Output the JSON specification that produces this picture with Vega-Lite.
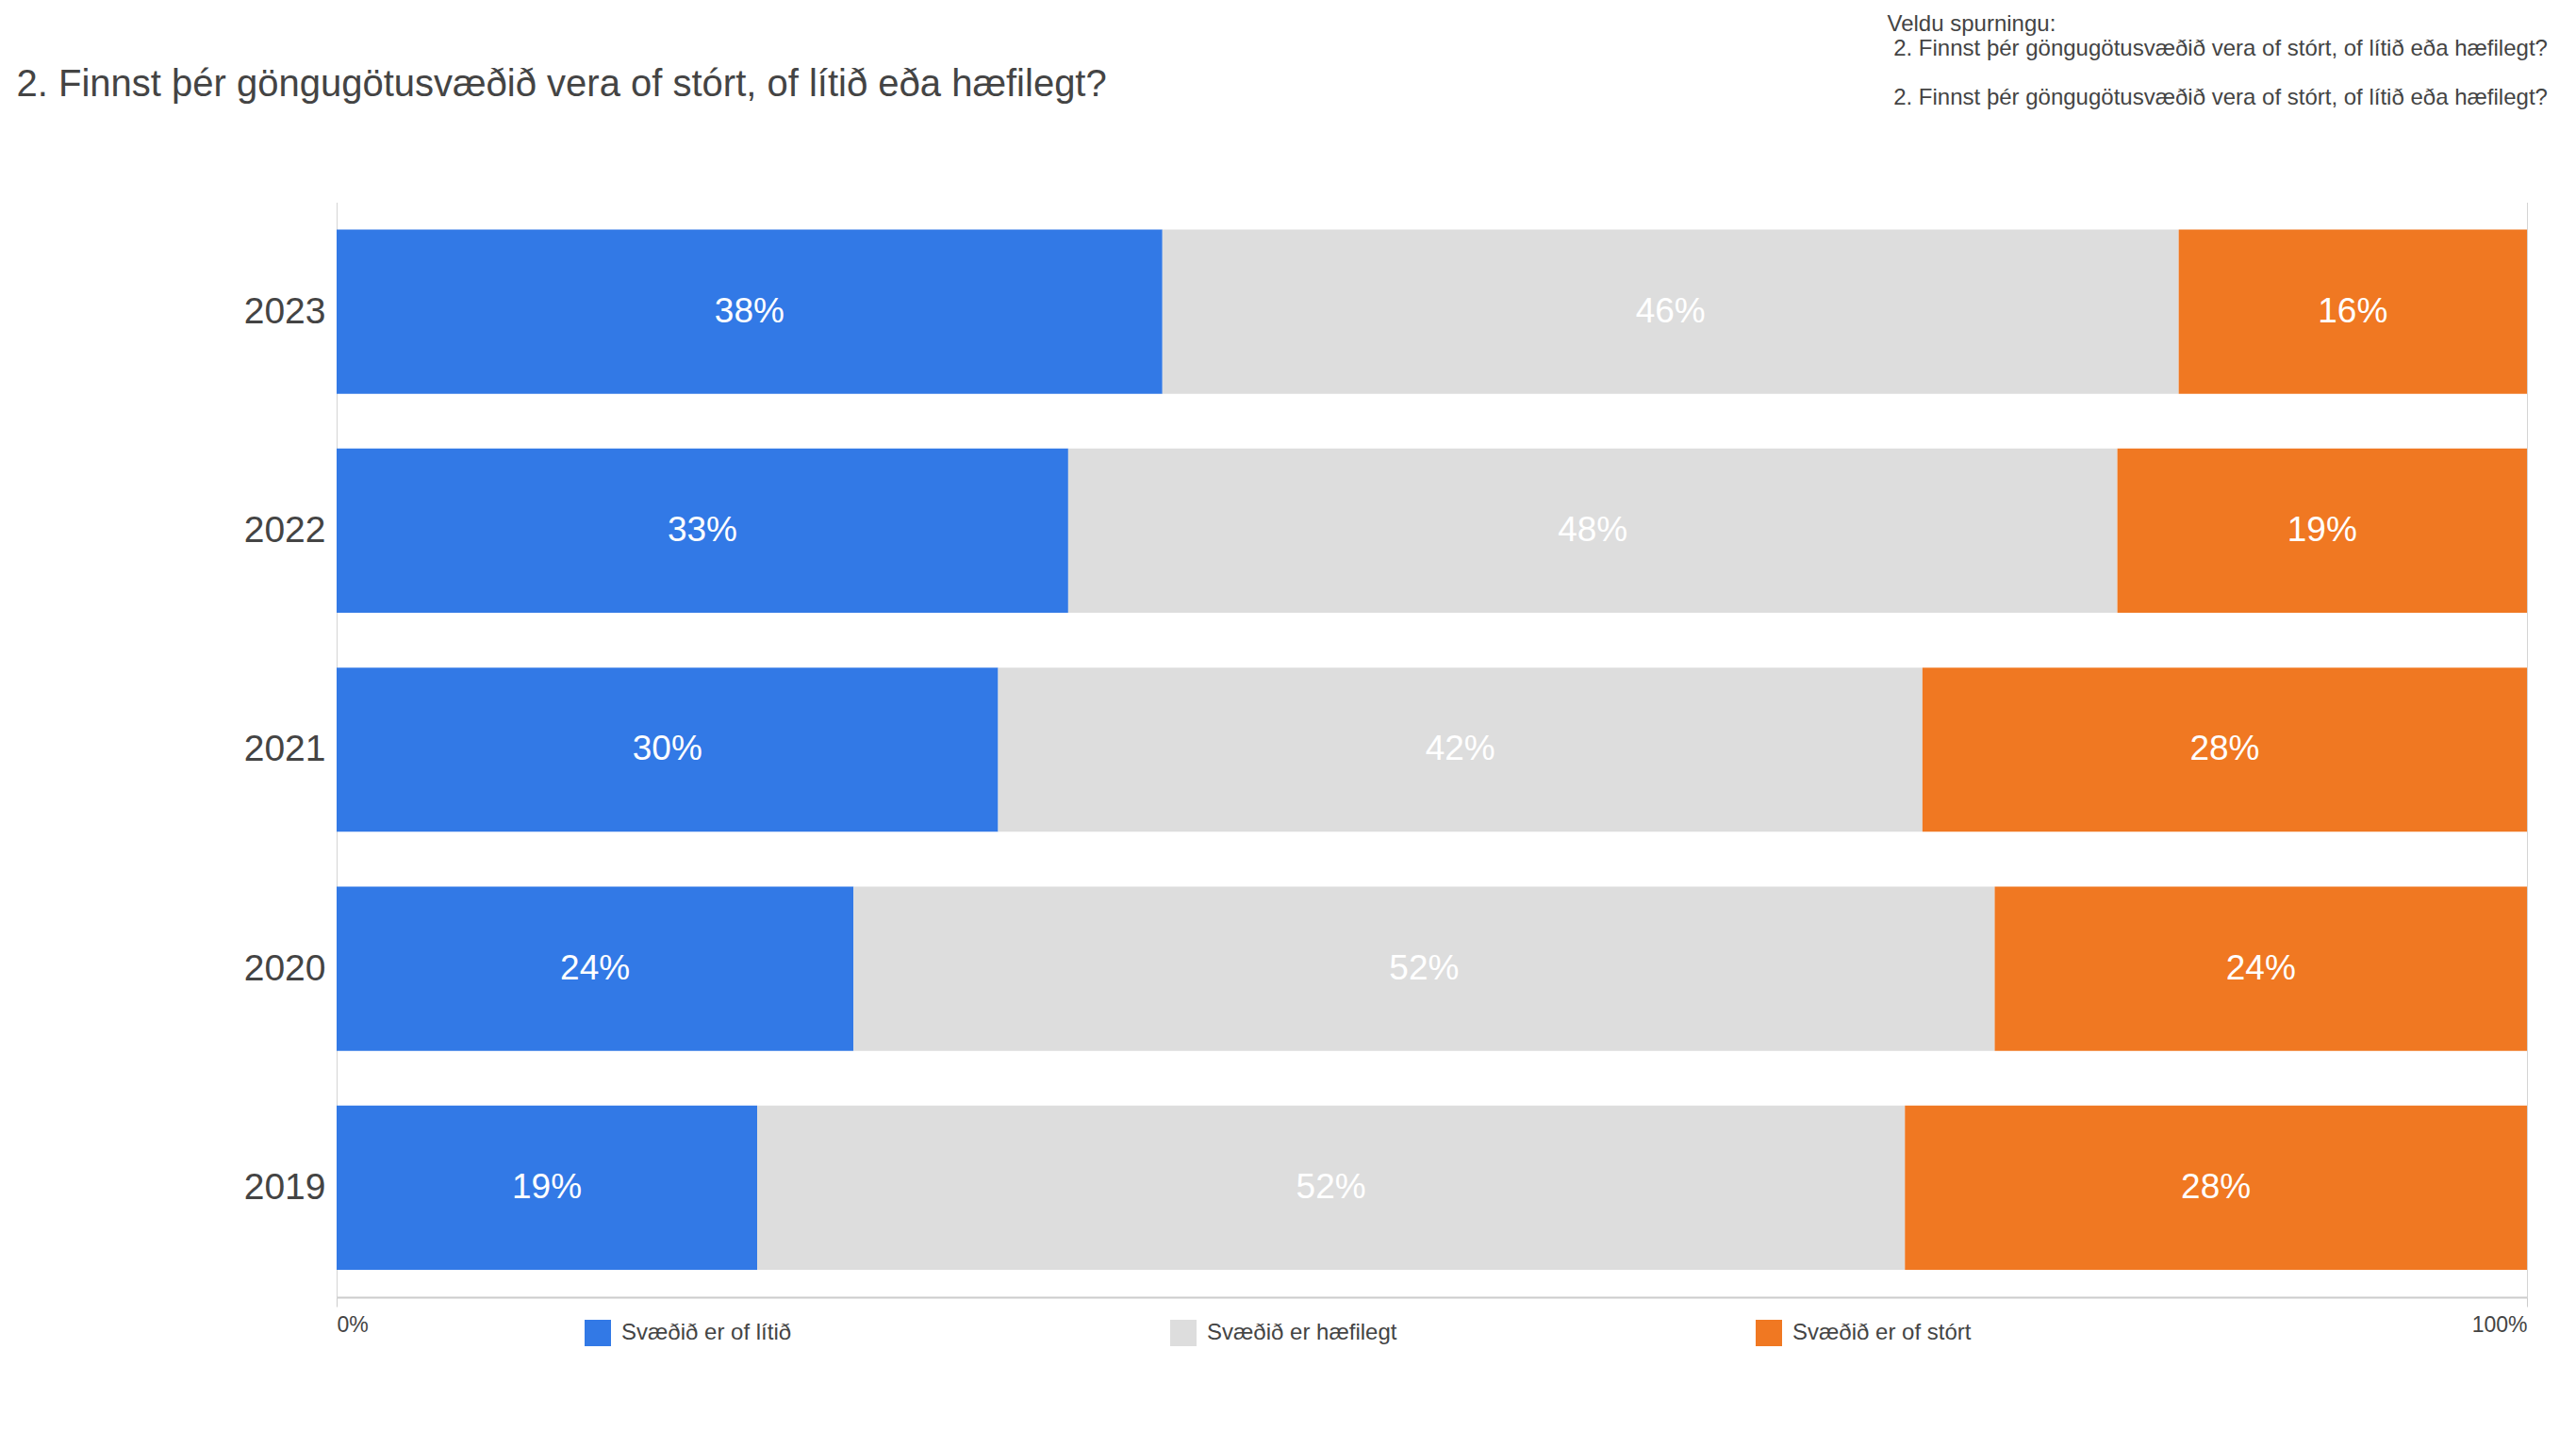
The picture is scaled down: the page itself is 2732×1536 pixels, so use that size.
{
  "$schema": "https://vega.github.io/schema/vega-lite/v6.json",
  "width": 2323,
  "height": 1161.5,
  "autosize": {"type": "none"},
  "padding": {"left": 357, "top": 214.5, "right": 52, "bottom": 160},
  "background": "white",
  "config": {"view": {"stroke": null}, "font": "Liberation Sans"},
  "data": {
    "values": [
      {"year": "2023", "answer": "Svæðið er of lítið", "share": 0.377},
      {"year": "2023", "answer": "Svæðið er hæfilegt", "share": 0.464},
      {"year": "2023", "answer": "Svæðið er of stórt", "share": 0.159},
      {"year": "2022", "answer": "Svæðið er of lítið", "share": 0.334},
      {"year": "2022", "answer": "Svæðið er hæfilegt", "share": 0.479},
      {"year": "2022", "answer": "Svæðið er of stórt", "share": 0.187},
      {"year": "2021", "answer": "Svæðið er of lítið", "share": 0.302},
      {"year": "2021", "answer": "Svæðið er hæfilegt", "share": 0.422},
      {"year": "2021", "answer": "Svæðið er of stórt", "share": 0.276},
      {"year": "2020", "answer": "Svæðið er of lítið", "share": 0.236},
      {"year": "2020", "answer": "Svæðið er hæfilegt", "share": 0.521},
      {"year": "2020", "answer": "Svæðið er of stórt", "share": 0.243},
      {"year": "2019", "answer": "Svæðið er of lítið", "share": 0.192},
      {"year": "2019", "answer": "Svæðið er hæfilegt", "share": 0.524},
      {"year": "2019", "answer": "Svæðið er of stórt", "share": 0.284}
    ]
  },
  "transform": [
    {"stack": "share", "groupby": ["year"], "as": ["x0", "x1"]},
    {"calculate": "(datum.x0 + datum.x1) / 2", "as": "mid"}
  ],
  "encoding": {
    "y": {
      "field": "year",
      "type": "ordinal",
      "sort": "descending",
      "scale": {"paddingInner": 0.25, "paddingOuter": 0.125},
      "axis": {
        "title": [
          "Veldu spurningu:",
          "\u200b 2. Finnst þér göngugötusvæðið vera of stórt, of lítið eða hæfilegt?",
          "\u200b",
          "\u200b 2. Finnst þér göngugötusvæðið vera of stórt, of lítið eða hæfilegt?"
        ],
        "titleAngle": 0,
        "titleX": 1644,
        "titleY": -182,
        "titleAlign": "left",
        "titleBaseline": "alphabetic",
        "titleFontSize": 24,
        "titleFontWeight": "normal",
        "titleColor": "#444444",
        "titleLineHeight": 26,
        "labelFontSize": 39,
        "labelColor": "#444444",
        "labelPadding": 12,
        "ticks": false,
        "domain": false,
        "grid": false
      }
    }
  },
  "layer": [
    {
      "mark": {"type": "bar"},
      "encoding": {
        "x": {
          "field": "x0",
          "type": "quantitative",
          "scale": {"domain": [0, 1], "nice": false},
          "axis": {
            "values": [0, 1],
            "format": ".0%",
            "labelFlush": true,
            "labelFontSize": 23,
            "labelColor": "#444444",
            "labelBaseline": "alphabetic",
            "labelPadding": 26,
            "tickSize": 10,
            "tickColor": "#cccccc",
            "domainColor": "#cccccc",
            "domainWidth": 2,
            "grid": true,
            "gridColor": "#d4d4d4",
            "title": "2. Finnst þér göngugötusvæðið vera of stórt, of lítið eða hæfilegt?",
            "titleX": -340,
            "titleY": -1275,
            "titleAlign": "left",
            "titleBaseline": "alphabetic",
            "titleAngle": 0,
            "titleFontSize": 40,
            "titleFontWeight": "normal",
            "titleColor": "#444444"
          }
        },
        "x2": {"field": "x1"},
        "color": {
          "field": "answer",
          "type": "nominal",
          "scale": {
            "domain": ["Svæðið er of lítið", "Svæðið er hæfilegt", "Svæðið er of stórt"],
            "range": ["#3279E6", "#DDDDDD", "#F07822"]
          },
          "legend": {
            "orient": "none",
            "legendX": 263,
            "legendY": 1185.5,
            "direction": "horizontal",
            "columns": 3,
            "gridAlign": "all",
            "columnPadding": 380,
            "symbolType": "square",
            "symbolSize": 784,
            "symbolStrokeWidth": 0,
            "symbolOpacity": 1,
            "labelFontSize": 24,
            "labelColor": "#444444",
            "labelOffset": 11,
            "labelLimit": 400,
            "title": null,
            "padding": 0
          }
        }
      }
    },
    {
      "mark": {"type": "text", "color": "white", "fontSize": 37, "align": "center", "baseline": "middle"},
      "encoding": {
        "x": {"field": "mid", "type": "quantitative"},
        "text": {"field": "share", "type": "quantitative", "format": ".0%"}
      }
    }
  ]
}
